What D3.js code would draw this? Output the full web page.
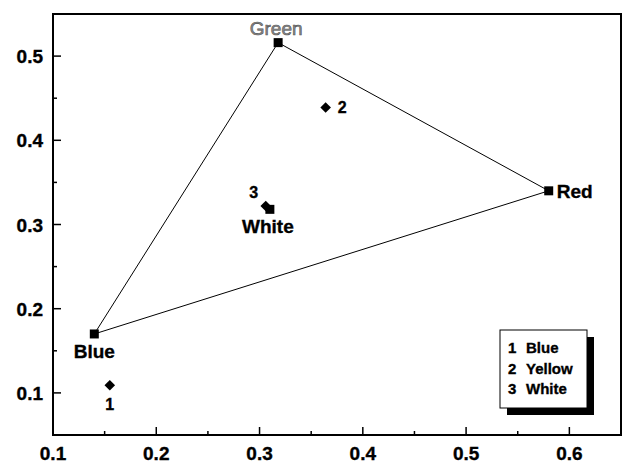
<!DOCTYPE html>
<html>
<head>
<meta charset="utf-8">
<script src="https://cdn.jsdelivr.net/npm/d3@7"></script>
<style>
  html, body { margin: 0; padding: 0; background: #fff; }
  svg { display: block; }
  text { font-family: "Liberation Sans", Arial, Helvetica, sans-serif; }
  text.heavy { stroke: #000; stroke-width: 0.35; }
</style>
</head>
<body>
<svg id="chart" width="624" height="463"></svg>
<script>
// Chromaticity coordinates of the display primaries (triangle corners)
const primaryNames = ["Blue", "Green", "Red"];
const primaryX = [0.14, 0.318, 0.58];
const primaryY = [0.17, 0.516, 0.34];

// Display white point
const whiteName = "White";
const whiteX = 0.31;
const whiteY = 0.318;

// Measured samples
const sampleIds = ["1", "2", "3"];
const sampleNames = ["Blue", "Yellow", "White"];
const sampleX = [0.155, 0.364, 0.306];
const sampleY = [0.109, 0.439, 0.322];

// Axis ticks
const xMajorTicks = [0.1, 0.2, 0.3, 0.4, 0.5, 0.6];
const xMinorTicks = [0.15, 0.25, 0.35, 0.45, 0.55];
const yMajorTicks = [0.1, 0.2, 0.3, 0.4, 0.5];
const yMinorTicks = [0.15, 0.25, 0.35, 0.45];

const svg = d3.select("#chart");
const plotLeft = 53, plotRight = 621, plotTop = 14, plotBottom = 435;

const x = d3.scaleLinear().domain([0.1, 0.65]).range([plotLeft, plotRight]);
const y = d3.scaleLinear().domain([0.05, 0.55]).range([plotBottom, plotTop]);

// Gamut triangle
const primaries = primaryNames.map((n, i) => ({ name: n, x: primaryX[i], y: primaryY[i] }));
svg.append("path")
  .attr("d", d3.line().x(d => x(d.x)).y(d => y(d.y)).curve(d3.curveLinearClosed)(primaries))
  .attr("fill", "none")
  .attr("stroke", "#000")
  .attr("stroke-width", 1);

// Frame
svg.append("rect")
  .attr("x", plotLeft).attr("y", plotTop)
  .attr("width", plotRight - plotLeft).attr("height", plotBottom - plotTop)
  .attr("fill", "none").attr("stroke", "#000").attr("stroke-width", 2);

// Bottom axis: ticks pointing inward
const fmt = d3.format(".1f");
const xAxis = svg.append("g").attr("transform", `translate(0,${plotBottom})`);
xAxis.selectAll("line.major").data(xMajorTicks).join("line")
  .attr("class", "major")
  .attr("x1", d => x(d)).attr("x2", d => x(d))
  .attr("y1", 0).attr("y2", -8)
  .attr("stroke", "#000").attr("stroke-width", 1.5);
xAxis.selectAll("line.minor").data(xMinorTicks).join("line")
  .attr("class", "minor")
  .attr("x1", d => x(d)).attr("x2", d => x(d))
  .attr("y1", 0).attr("y2", -4)
  .attr("stroke", "#000").attr("stroke-width", 1.5);
xAxis.selectAll("text").data(xMajorTicks).join("text")
  .attr("class", "heavy")
  .attr("x", d => x(d)).attr("y", 25)
  .attr("text-anchor", "middle")
  .attr("font-size", 19).attr("font-weight", "bold")
  .text(d => fmt(d));

// Left axis: ticks pointing inward
const yAxis = svg.append("g").attr("transform", `translate(${plotLeft},0)`);
yAxis.selectAll("line.major").data(yMajorTicks).join("line")
  .attr("class", "major")
  .attr("x1", 0).attr("x2", 8)
  .attr("y1", d => y(d)).attr("y2", d => y(d))
  .attr("stroke", "#000").attr("stroke-width", 1.5);
yAxis.selectAll("line.minor").data(yMinorTicks).join("line")
  .attr("class", "minor")
  .attr("x1", 0).attr("x2", 4)
  .attr("y1", d => y(d)).attr("y2", d => y(d))
  .attr("stroke", "#000").attr("stroke-width", 1.5);
yAxis.selectAll("text").data(yMajorTicks).join("text")
  .attr("class", "heavy")
  .attr("x", -10).attr("y", d => y(d) + 7)
  .attr("text-anchor", "end")
  .attr("font-size", 19).attr("font-weight", "bold")
  .text(d => fmt(d));

// Primary markers
const square = d3.symbol().type(d3.symbolSquare).size(81);
svg.selectAll("path.primary").data(primaries).join("path")
  .attr("class", "primary")
  .attr("transform", d => `translate(${x(d.x)},${y(d.y)})`)
  .attr("d", square).attr("fill", "#000");

// White point marker
svg.append("path")
  .attr("transform", `translate(${x(whiteX)},${y(whiteY)})`)
  .attr("d", square).attr("fill", "#000");

// Sample markers (diamonds)
const samples = sampleIds.map((id, i) => ({ id, name: sampleNames[i], x: sampleX[i], y: sampleY[i] }));
const diamond = d3.symbol().type(d3.symbolSquare).size(56);
svg.selectAll("path.sample").data(samples).join("path")
  .attr("class", "sample")
  .attr("transform", d => `translate(${x(d.x)},${y(d.y)}) rotate(45)`)
  .attr("d", diamond).attr("fill", "#000");

// Primary labels
const primaryLabelPos = {
  Blue:  { dx: 0,  dy: 24, anchor: "middle" },
  Green: { dx: -2, dy: -8, anchor: "middle" },
  Red:   { dx: 8,  dy: 7,  anchor: "start" }
};
svg.selectAll("text.primary").data(primaries).join("text")
  .attr("class", d => d.name === "Green" ? "primary" : "primary heavy")
  .attr("x", d => x(d.x) + primaryLabelPos[d.name].dx)
  .attr("y", d => y(d.y) + primaryLabelPos[d.name].dy)
  .attr("text-anchor", d => primaryLabelPos[d.name].anchor)
  .attr("font-size", 19)
  .attr("font-weight", d => d.name === "Green" ? "normal" : "bold")
  .attr("fill", d => d.name === "Green" ? "#8c8c8c" : "#000")
  .attr("stroke", d => d.name === "Green" ? "#555" : null)
  .attr("stroke-width", d => d.name === "Green" ? 0.6 : null)
  .text(d => d.name);

// White point label
svg.append("text")
  .attr("class", "heavy")
  .attr("x", x(whiteX) - 2).attr("y", y(whiteY) + 24)
  .attr("text-anchor", "middle")
  .attr("font-size", 19).attr("font-weight", "bold")
  .text(whiteName);

// Sample number labels
const sampleLabelPos = {
  "1": { dx: 0,   dy: 25,   anchor: "middle" },
  "2": { dx: 12,  dy: 5.5,  anchor: "start" },
  "3": { dx: -12, dy: -7.5, anchor: "middle" }
};
svg.selectAll("text.sample").data(samples).join("text")
  .attr("class", "sample heavy")
  .attr("x", d => x(d.x) + sampleLabelPos[d.id].dx)
  .attr("y", d => y(d.y) + sampleLabelPos[d.id].dy)
  .attr("text-anchor", d => sampleLabelPos[d.id].anchor)
  .attr("font-size", 16).attr("font-weight", "bold")
  .text(d => d.id);

// Legend with drop shadow
const lg = svg.append("g").attr("transform", "translate(500,330)");
const lw = 87, lh = 78;
lg.append("rect").attr("x", 7).attr("y", 7).attr("width", lw).attr("height", lh).attr("fill", "#000");
lg.append("rect").attr("x", 0).attr("y", 0).attr("width", lw).attr("height", lh)
  .attr("fill", "#fff").attr("stroke", "#000").attr("stroke-width", 1);
const rows = lg.selectAll("g.row").data(samples).join("g")
  .attr("class", "row")
  .attr("transform", (d, i) => `translate(0,${23 + i * 20.5})`);
rows.append("text").attr("class", "heavy").attr("x", 8)
  .attr("font-size", 15).attr("font-weight", "bold").text(d => d.id);
rows.append("text").attr("class", "heavy").attr("x", 26)
  .attr("font-size", 15).attr("font-weight", "bold").text(d => d.name);
</script>
</body>
</html>
